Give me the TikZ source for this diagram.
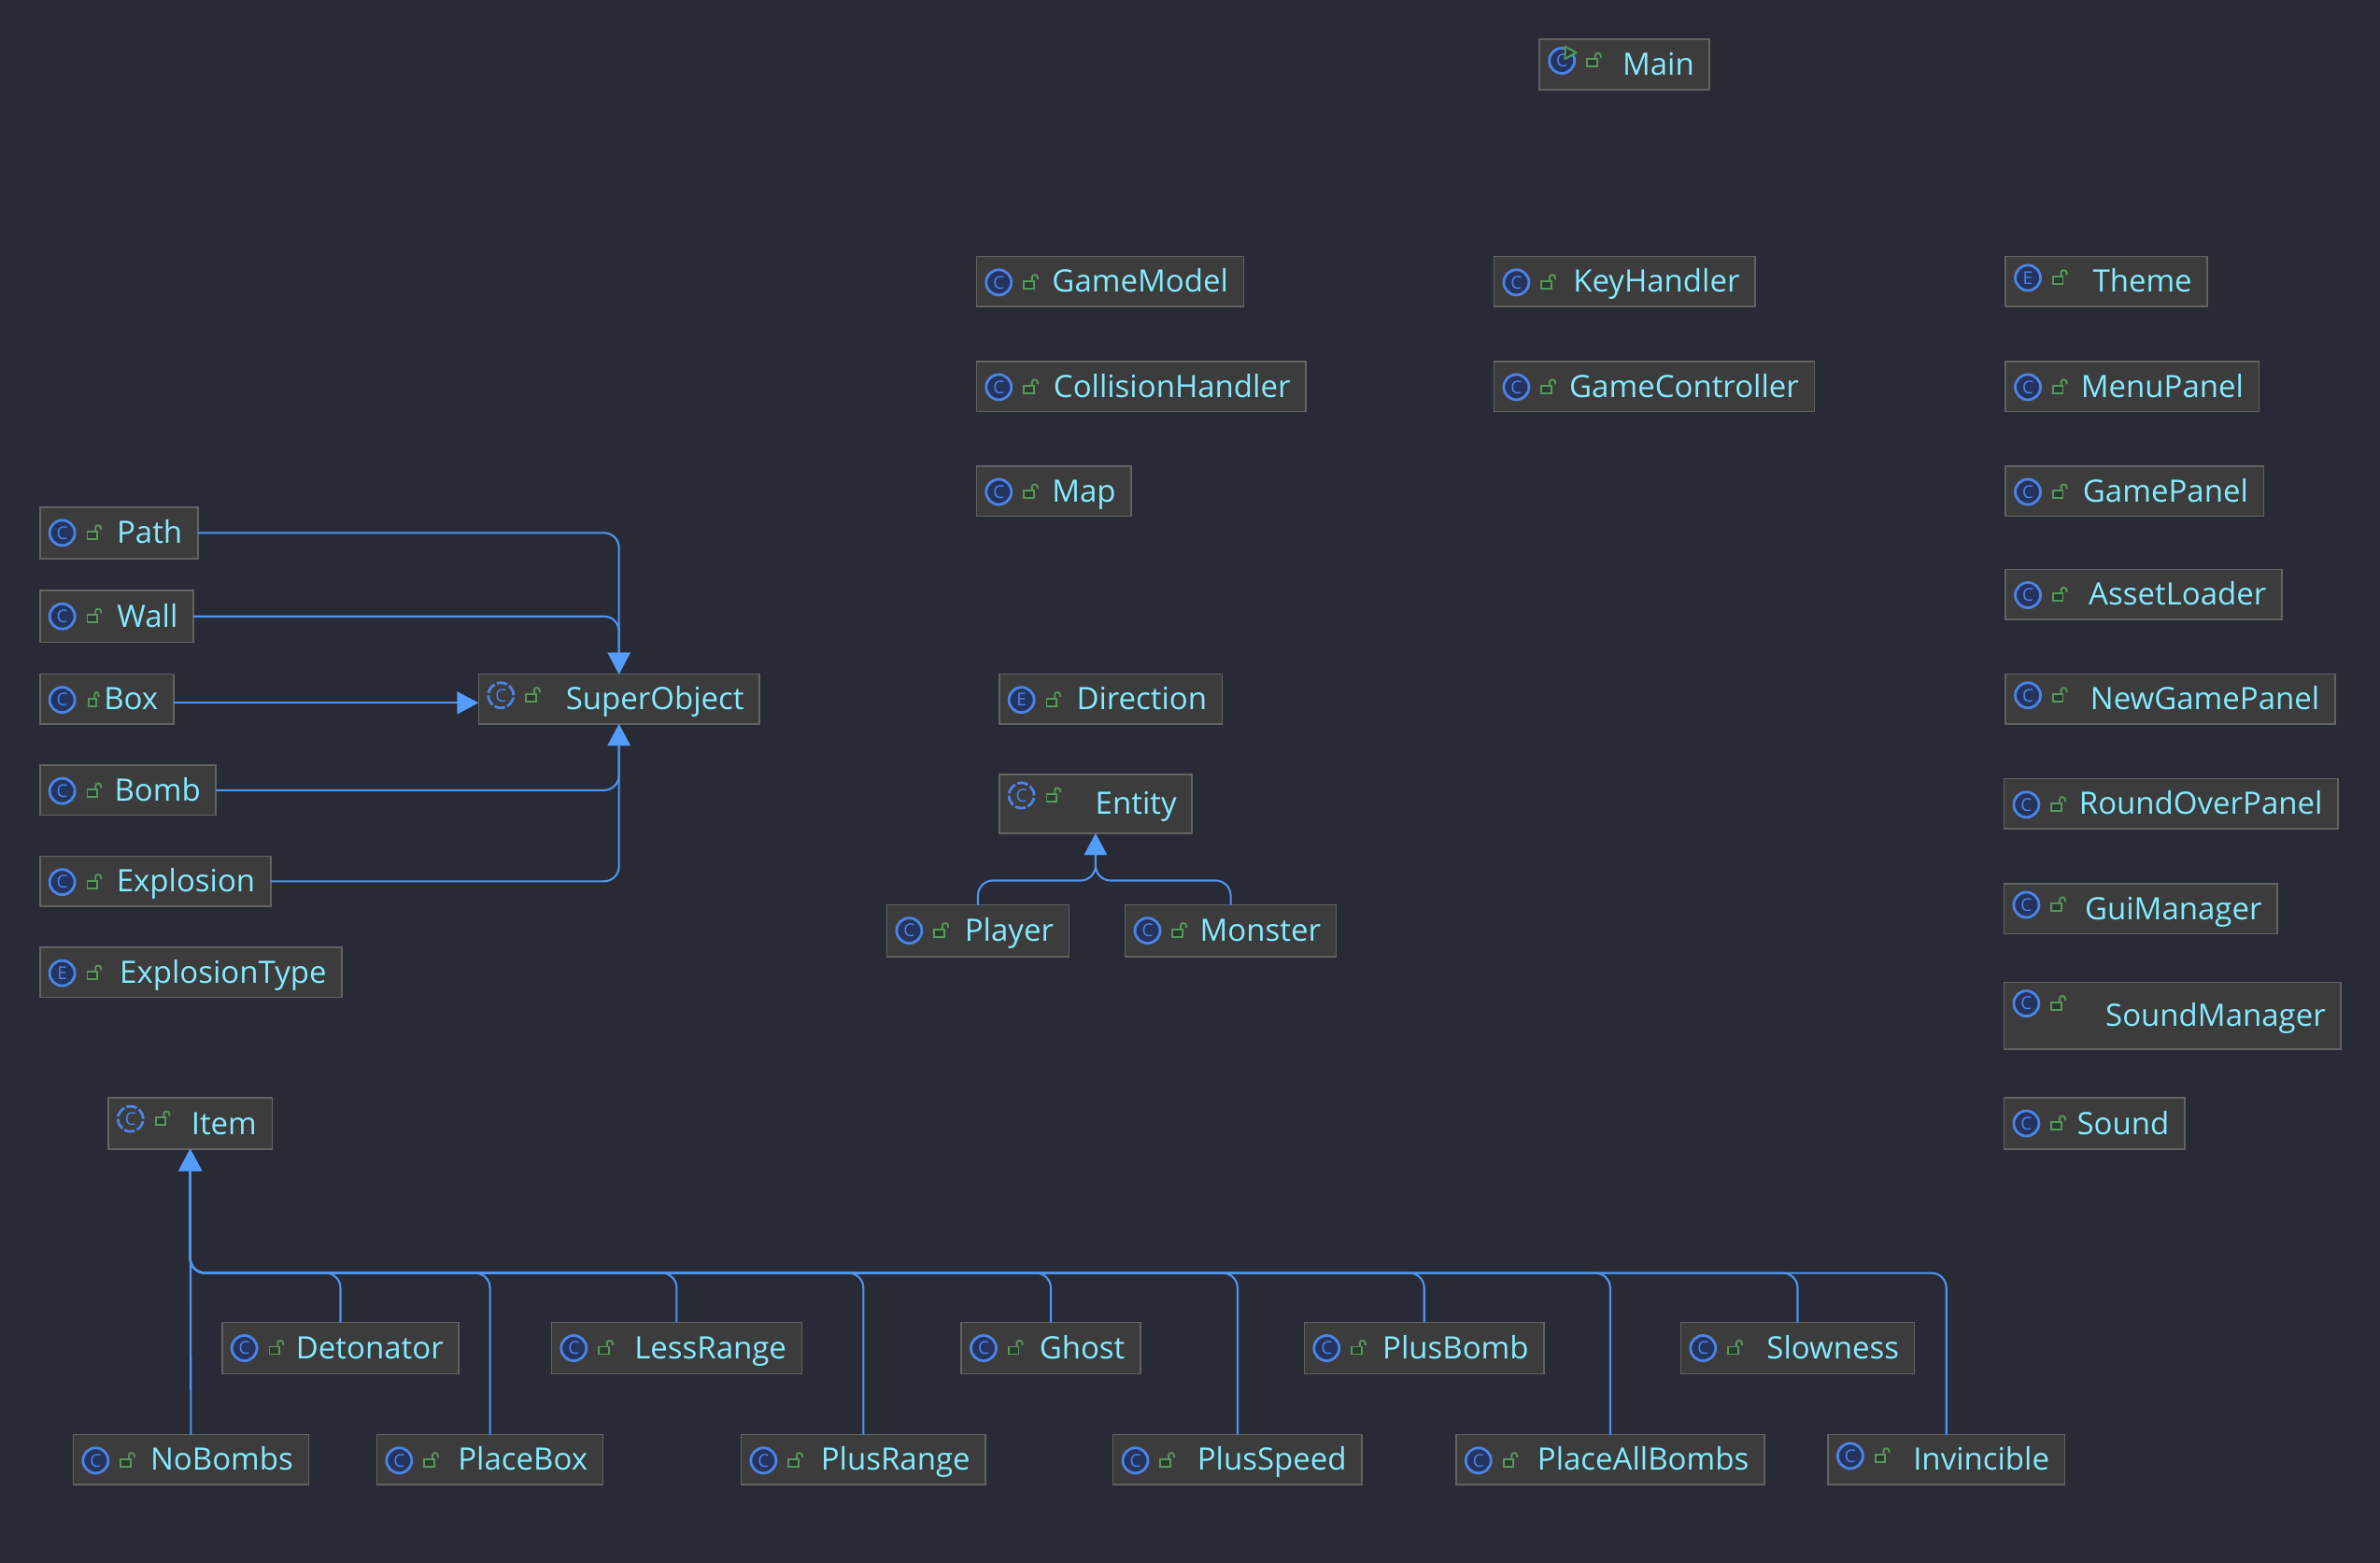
\documentclass[tikz,border=0pt]{standalone}
\usepackage{fontspec}
\setmainfont{Open Sans}
\usetikzlibrary{arrows.meta}

\definecolor{sheet}{HTML}{282B36}
\definecolor{boxfill}{HTML}{3C3C3C}
\definecolor{boxedge}{HTML}{626262}
\definecolor{nametext}{HTML}{86EAFF}
\definecolor{linkblue}{HTML}{4F94EE}
\definecolor{tipblue}{HTML}{549CFA}
\definecolor{ringblue}{HTML}{4C84E6}
\definecolor{ringfill}{HTML}{25345F}
\definecolor{lockgreen}{HTML}{57965C}
\definecolor{lockfill}{HTML}{2B3A2E}

\tikzset{
  classbox/.style n args={4}{draw=boxedge,fill=boxfill,line width=1.6pt,outer sep=0pt,
    inner xsep=16.5pt,inner ysep=0pt,align=right,text=nametext,
    font=\fontsize{33}{40}\selectfont,text height=30pt,text depth=7pt,
    minimum width={(#3-#1)*1.625pt},minimum height={(#4-#2)*1.625pt},
    text width={(#3-#1)*1.625pt-33pt},at={({(#1+#3)/2+.3},{(#2+#4)/2})}},
  ring/.style={draw=ringblue,fill=ringfill,line width=2.8pt},
  dashedring/.style={ring,fill=none,dash pattern=on 11.5pt off 2.6pt},
  inherit/.style={draw=linkblue,line width=2.1pt,rounded corners=16pt,-{Triangle[length=23pt,width=24pt,color=tipblue]}},
  pics/classicon/.style 2 args={code={
    \draw[#2] (0,0) circle (13.5pt);
    \node[text=ringblue,font=\fontsize{19}{19}\selectfont,inner sep=0pt] at (0,0) {#1};
  }},
  pics/lockicon/.style={code={
    \begin{scope}[xscale=#1]
    \draw[draw=lockgreen,fill=lockfill,line width=1.9pt] (-5.3pt,-4pt) rectangle (5.3pt,4pt);
    \draw[draw=lockgreen,line width=1.9pt] (3.4pt,4pt) -- (3.4pt,8pt) .. controls (3.4pt,11.5pt) and (9.4pt,11.5pt) .. (9.4pt,7.5pt) -- (9.4pt,5.5pt);
    \end{scope}
  }},
  pics/lockicon/.default=1
}

% [lock width] name, left, top, right, bottom, icon drop, letter, ring style
\newcommand{\classnode}[9][1]{
  \node[classbox={#3}{#4}{#5}{#6}] (#2) {#2};
  \pic at ([shift={(14.7,#7)}]#2.north west) {classicon={#8}{#9}};
  \pic at ([shift={(34.5,{#7+1.5})}]#2.north west) {lockicon=#1};
}

\begin{document}
\begin{tikzpicture}[x=1.625pt,y=1.625pt,yscale=-1]
\useasboundingbox (0,0) rectangle (1568,1029);
\fill[sheet] (-2,-2) rectangle (1570,1031);

% top block
\classnode{Main}{1014}{26}{1126}{59}{14}{C}{ring}
\classnode{GameModel}{643}{169}{819}{202}{17}{C}{ring}
\classnode{CollisionHandler}{643}{238}{860}{271}{17}{C}{ring}
\classnode{Map}{643}{307}{745}{340}{17}{C}{ring}
\classnode{KeyHandler}{984}{169}{1156}{202}{17}{C}{ring}
\classnode{GameController}{984}{238}{1195}{271}{17}{C}{ring}
% run marker on Main
\draw[draw=lockgreen,fill=lockfill,line width=2pt,line join=round] ([shift={(16.8,4.8)}]Main.north west) -- ([shift={(16.8,12.8)}]Main.north west) -- ([shift={(24.2,8.6)}]Main.north west) -- cycle;

% right column
\classnode{Theme}{1321}{169}{1454}{202}{14}{E}{ring}
\classnode{MenuPanel}{1321}{238}{1488}{271}{17}{C}{ring}
\classnode{GamePanel}{1321}{307}{1491}{340}{17}{C}{ring}
\classnode{AssetLoader}{1321}{375}{1503}{408}{17}{C}{ring}
\classnode{NewGamePanel}{1321}{444}{1538}{477}{14}{C}{ring}
\classnode{RoundOverPanel}{1320}{513}{1540}{546}{17}{C}{ring}
\classnode{GuiManager}{1320}{582}{1500}{615}{14}{C}{ring}
\classnode{SoundManager}{1320}{647}{1542}{691}{14}{C}{ring}
\classnode{Sound}{1320}{723}{1439}{757}{17}{C}{ring}

% objects
\classnode{Path}{26}{334}{130}{368}{17}{C}{ring}
\classnode{Wall}{26}{389}{127}{423}{17}{C}{ring}
\classnode[.72]{Box}{26}{444}{114}{477}{17}{C}{ring}
\classnode{Bomb}{26}{504}{142}{537}{17}{C}{ring}
\classnode{Explosion}{26}{564}{178}{597}{17}{C}{ring}
\classnode{ExplosionType}{26}{624}{225}{657}{17}{E}{ring}
\classnode{SuperObject}{315}{444}{500}{477}{14}{C}{dashedring}

% entities
\classnode{Direction}{658}{444}{805}{477}{17}{E}{ring}
\classnode{Entity}{658}{510}{785}{549}{14}{C}{dashedring}
\classnode{Player}{584}{596}{704}{630}{17}{C}{ring}
\classnode{Monster}{741}{596}{880}{630}{17}{C}{ring}

% items
\classnode{Item}{71}{723}{179}{757}{14}{C}{dashedring}
\classnode{Detonator}{146}{871}{302}{905}{17}{C}{ring}
\classnode{LessRange}{363}{871}{528}{905}{17}{C}{ring}
\classnode{Ghost}{633}{871}{751}{905}{17}{C}{ring}
\classnode{PlusBomb}{859}{871}{1017}{905}{17}{C}{ring}
\classnode{Slowness}{1107}{871}{1261}{905}{17}{C}{ring}
\classnode{NoBombs}{48}{945}{203}{978}{17}{C}{ring}
\classnode{PlaceBox}{248}{945}{397}{978}{17}{C}{ring}
\classnode{PlusRange}{488}{945}{649}{978}{17}{C}{ring}
\classnode{PlusSpeed}{733}{945}{897}{978}{17}{C}{ring}
\classnode{PlaceAllBombs}{959}{945}{1162}{978}{17}{C}{ring}
\classnode{Invincible}{1204}{945}{1360}{978}{14}{C}{ring}

% connectors
\draw[inherit] (Path.east) -| (SuperObject.north);
\draw[inherit] (Wall.east) -| (SuperObject.north);
\draw[inherit] ([yshift=4pt]Box.east) -- ([yshift=4pt]SuperObject.west);
\draw[inherit] (Bomb.east) -| (SuperObject.south);
\draw[inherit] (Explosion.east) -| (SuperObject.south);

\coordinate (entitybus) at (721.8,580);
\draw[inherit] (Player.north) |- (entitybus) -- (Entity.south);
\draw[inherit] (Monster.north) |- (entitybus) -- (Entity.south);

\coordinate (itembus) at (125.3,838.5);
\draw[inherit] (NoBombs.north) -- (Item.south);
\foreach \child in {Detonator,PlaceBox,LessRange,PlusRange,Ghost,PlusSpeed,PlusBomb,PlaceAllBombs,Slowness,Invincible}
  \draw[inherit] (\child.north) |- (itembus) -- (Item.south);

\end{tikzpicture}
\end{document}
